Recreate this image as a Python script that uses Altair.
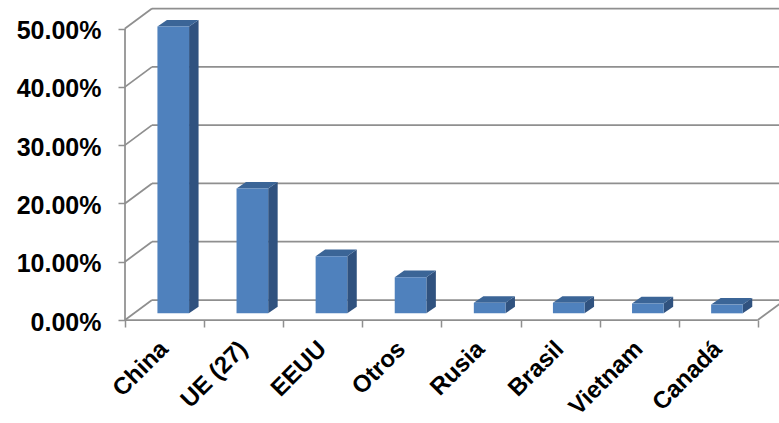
import json
import altair as alt
import pandas as pd

# Share of total by country / region
categories = ["China", "UE (27)", "EEUU", "Otros", "Rusia", "Brasil", "Vietnam", "Canadá"]
shares = [0.492, 0.214, 0.098, 0.062, 0.018, 0.018, 0.017, 0.015]
y_ticks = [0.0, 0.1, 0.2, 0.3, 0.4, 0.5]

# Oblique "3-D" projection, expressed in data units of the two scales
DEPTH_X = 0.341          # floor depth along x (category units)
DEPTH_Y = 0.0343         # floor depth along y (share units)
X_MAX = 8.268
Y_MAX = 0.537
BAR_LEFT = 0.41          # front face start inside each category slot
BAR_W = 0.40
BAR_DX = 0.12            # bar depth along x
BAR_DY = DEPTH_Y / 3     # bar depth along y
BASE = DEPTH_Y / 3       # bars stand one third into the floor

FONT = "Liberation Sans"
LINE = "#8f8f8f"

n = len(categories)

# ---- walls, floor and front axis line as segments
seg = []
for v in y_ticks:
    seg.append(dict(x=0, x2=DEPTH_X, y=v, y2=v + DEPTH_Y))              # side wall
    seg.append(dict(x=DEPTH_X, x2=X_MAX, y=v + DEPTH_Y, y2=v + DEPTH_Y))  # back wall
seg.append(dict(x=0, x2=0, y=0, y2=y_ticks[-1]))                          # front axis
seg.append(dict(x=0, x2=n, y=0, y2=0))                                    # floor front edge
seg.append(dict(x=n, x2=n + DEPTH_X, y=0, y2=DEPTH_Y))                    # floor right edge
seg_df = pd.DataFrame(seg)

# ---- bar faces (side and top faces as closed outlines)
front, side, top = [], [], []
for i, (c, v) in enumerate(zip(categories, shares)):
    x0 = i + BAR_LEFT
    x1 = x0 + BAR_W
    t = BASE + v
    front.append(dict(cat=c, x=x0, x2=x1, y=BASE, y2=t))
    for k, (px, py) in enumerate([(x1, BASE), (x1 + BAR_DX, BASE + BAR_DY),
                                  (x1 + BAR_DX, t + BAR_DY), (x1, t), (x1, BASE)]):
        side.append(dict(cat=c, k=k, x=px, y=py))
    for k, (px, py) in enumerate([(x0, t), (x1, t), (x1 + BAR_DX, t + BAR_DY),
                                  (x0 + BAR_DX, t + BAR_DY), (x0, t)]):
        top.append(dict(cat=c, k=k, x=px, y=py))
front_df = pd.DataFrame(front)
side_df = pd.DataFrame(side)
top_df = pd.DataFrame(top)

# ---- scales and axes shared by every layer
xscale = alt.Scale(domain=[0, X_MAX], nice=False, zero=False)
yscale = alt.Scale(domain=[0, Y_MAX], nice=False, zero=False)

names_js = json.dumps(categories, ensure_ascii=False)
xaxis = alt.Axis(
    title=None,
    values=list(range(n + 1)),
    labelExpr=f"datum.value < {n} ? {names_js}[round(datum.value)] : ''",
    domain=False, grid=False,
    tickSize=7, tickColor=LINE, tickWidth=1.5,
    labelAngle=-45, labelAlign="right", labelBaseline="alphabetic",
    labelOffset=44, labelPadding=23,
    labelFlush=False, labelOverlap=False, labelBound=False,
    labelFont=FONT, labelFontSize=24, labelFontWeight="bold", labelColor="#000000",
)
yaxis = alt.Axis(
    title=None,
    values=y_ticks, format=".2%",
    domain=False, grid=False,
    tickSize=7, tickColor=LINE, tickWidth=1.5,
    labelPadding=17, labelOffset=2,
    labelFlush=False, labelOverlap=False,
    labelFont=FONT, labelFontSize=25, labelFontWeight="bold", labelColor="#000000",
)


def X(f):
    return alt.X(f, type="quantitative", scale=xscale, axis=xaxis)


def Y(f):
    return alt.Y(f, type="quantitative", scale=yscale, axis=yaxis, stack=None)


walls = alt.Chart(seg_df).mark_rule(color=LINE, strokeWidth=1.75).encode(
    x=X("x"), x2="x2", y=Y("y"), y2="y2"
)

sides = alt.Chart(side_df).mark_line(
    filled=True, color="#30527f", strokeWidth=0.5, interpolate="linear"
).encode(x=X("x"), y=Y("y"), detail="cat:N", order="k:Q")

tops = alt.Chart(top_df).mark_line(
    filled=True, color="#3b6597", strokeWidth=0.5, interpolate="linear"
).encode(x=X("x"), y=Y("y"), detail="cat:N", order="k:Q")

fronts = alt.Chart(front_df).mark_rect(color="#4f81bd").encode(
    x=X("x"), x2="x2", y=Y("y"), y2="y2"
)

chart = (
    alt.layer(walls, sides, tops, fronts)
    .properties(
        width=654,
        height=313,
        autosize=alt.AutoSizeParams(type="none"),
        padding={"left": 125, "top": 7, "right": 0, "bottom": 103},
        background="#ffffff",
    )
    .configure_view(stroke=None)
)

chart.save("out.html", embed_options={"renderer": "svg", "actions": False})
